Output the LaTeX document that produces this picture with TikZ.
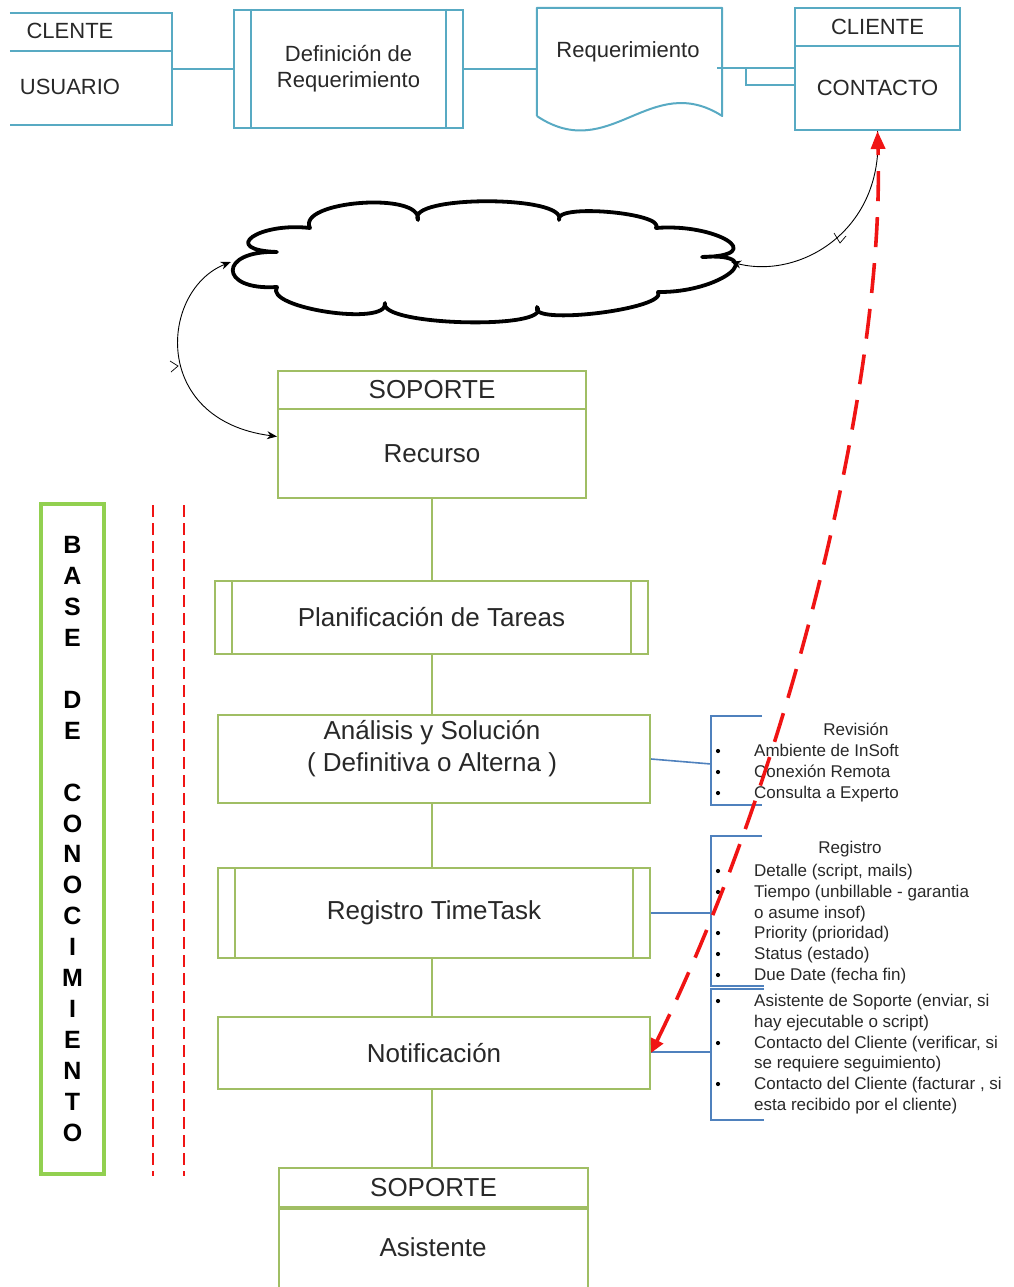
\documentclass[tikz,border=0pt]{standalone}
\usepackage{fontspec}
\setmainfont{Liberation Sans}
\usetikzlibrary{arrows.meta,calc}
\definecolor{tealc}{RGB}{88,170,195}
\definecolor{olivec}{RGB}{160,190,100}
\definecolor{limec}{RGB}{146,208,80}
\definecolor{bluec}{RGB}{79,129,189}
\definecolor{ink}{RGB}{40,40,40}
\definecolor{redc}{RGB}{240,20,20}

\begin{document}
\begin{tikzpicture}[x=1pt,y=-1pt,
  tealline/.style={draw=tealc,line width=2pt},
  tealbox/.style={tealline,inner sep=0pt,text=ink,font=\fontsize{22}{26}\selectfont},
  toptext/.style={inner sep=0pt,text=ink,font=\fontsize{22}{26}\selectfont},
  greenline/.style={draw=olivec,line width=2pt},
  greenbox/.style={greenline,inner sep=0pt,text=ink,font=\fontsize{26}{32}\selectfont},
  greentext/.style={inner sep=0pt,text=ink,font=\fontsize{26}{32}\selectfont},
  blueline/.style={draw=bluec,line width=1.6pt},
  hidden/.style={inner sep=0pt,draw=none},
  itemtext/.style={inner sep=0pt,anchor=base west,text=ink,font=\fontsize{17}{21}\selectfont},
  reddash/.style={draw=redc,line width=2.5pt,dash pattern=on 12pt off 6pt},
  thinarrow/.style={draw=black,line width=0.9pt},
]
\useasboundingbox (0,0) rectangle (1013,1287);
\clip (0,0) rectangle (1013,1287);

% ---------- top row ----------
\node[hidden,minimum width=162pt,minimum height=112pt] (cu) at (91,69) {};
\draw[tealline] (cu.north west) -- (cu.north east) -- (cu.south east) -- (cu.south west);
\draw[tealline] (cu.west |- 0,51) -- (cu.east |- 0,51);
\node[toptext] (cu-h) at (70,31) {CLENTE};
\node[toptext] (cu-b) at (70,87) {USUARIO};

\node[tealbox,minimum width=229pt,minimum height=118pt,align=center] (def) at (348.5,69)
  {Definición de\\Requerimiento};
\draw[tealline] ($(def.north west)+(18,0)$) -- ($(def.south west)+(18,0)$);
\draw[tealline] ($(def.north east)+(-18,0)$) -- ($(def.south east)+(-18,0)$);

\node[hidden,minimum width=185pt,minimum height=108pt] (req) at (629.5,62) {};
\draw[tealline,line join=round] (req.west |- 0,116) -- (req.north west) -- (req.north east)
  -- (req.east |- 0,116) .. controls (650,70) and (610,165) .. (req.west |- 0,116);
\node[toptext] (req-t) at (628,52) {Requerimiento};

\node[tealbox,minimum width=165pt,minimum height=38pt] (cc-h) at (877.5,27) {CLIENTE};
\node[tealbox,minimum width=165pt,minimum height=84pt] (cc-b) at (877.5,88) {CONTACTO};

\draw[tealline] (cu.east) -- (def.west);
\draw[tealline] (def.east) -- (def.east -| req.west);
\coordinate (req-out) at (717,68);
\coordinate (req-step) at (746,68);
\draw[tealline,line width=2.8pt] (req-out) -- (req-out -| cc-b.west);
\draw[tealline] (req-step) |- ($(cc-b.west)+(0,-3)$);

% ---------- cloud ----------
\node[hidden,minimum width=500pt,minimum height=122pt] (cloud) at (481,262) {};
\draw[line width=3.8pt,line join=round]
  (310,228) .. controls (296,201) and (422,191) .. (418,220)
  .. controls (405,195) and (568,195) .. (559,220)
  .. controls (553,203) and (666,213) .. (656,228)
  .. controls (716,223) and (770,256) .. (702,257)
  .. controls (772,252) and (721,293) .. (658,292)
  .. controls (669,309) and (528,326) .. (537,307)
  .. controls (554,330) and (378,326) .. (385,303)
  .. controls (389,327) and (263,308) .. (277,287)
  .. controls (218,291) and (218,250) .. (277,252)
  .. controls (219,250) and (258,222) .. cycle;

% ---------- support column ----------
\node[greenbox,minimum width=308pt,minimum height=38pt] (rs-h) at (432,390) {SOPORTE};
\node[greenbox,minimum width=308pt,minimum height=89pt] (rs-b) at (432,453.5) {Recurso};

\node[greenbox,minimum width=433pt,minimum height=73pt] (plan) at (431.5,617.5) {Planificación de Tareas};
\draw[greenline] ($(plan.north west)+(18,0)$) -- ($(plan.south west)+(18,0)$);
\draw[greenline] ($(plan.north east)+(-18,0)$) -- ($(plan.south east)+(-18,0)$);

\node[greenbox,minimum width=432pt,minimum height=88pt] (ana) at (434,759) {};
\node[greentext,align=center] (ana-t) at (432,749) {Análisis y Solución\\( Definitiva o Alterna )};

\node[greenbox,minimum width=432pt,minimum height=90pt] (reg) at (434,913) {Registro TimeTask};
\draw[greenline] ($(reg.north west)+(18,0)$) -- ($(reg.south west)+(18,0)$);
\draw[greenline] ($(reg.north east)+(-18,0)$) -- ($(reg.south east)+(-18,0)$);

\node[greenbox,minimum width=432pt,minimum height=72pt] (noti) at (434,1053) {Notificación};

\node[greenbox,minimum width=309pt,minimum height=39pt] (as-h) at (433.5,1187.5) {SOPORTE};
\node[greenbox,minimum width=309pt,minimum height=100pt,anchor=north] (as-b) at (as-h.south) {};
\node[greentext] (as-t) at (433,1247) {Asistente};

\draw[greenline] (rs-b.south) -- (rs-b.south |- plan.north);
\draw[greenline] (plan.south -| rs-b.south) -- (rs-b.south |- ana.north);
\draw[greenline] (ana.south -| rs-b.south) -- (rs-b.south |- reg.north);
\draw[greenline] (reg.south -| rs-b.south) -- (rs-b.south |- noti.north);
\draw[greenline] (noti.south -| rs-b.south) -- (rs-b.south |- as-h.north);

% ---------- knowledge base ----------
\node[draw=limec,line width=3.5pt,minimum width=63pt,minimum height=670pt,inner sep=0pt] (base) at (72.5,839) {};
\node[inner sep=0pt,align=center,text=black,font=\bfseries\fontsize{25}{30.9}\selectfont] (base-t) at (base.center)
  {B\\A\\S\\E\\~\\D\\E\\~\\C\\O\\N\\O\\C\\I\\M\\I\\E\\N\\T\\O};
\coordinate (kb1-top) at (153,505);
\coordinate (kb1-bot) at (153,1176);
\coordinate (kb2-top) at (184,505);
\coordinate (kb2-bot) at (184,1176);
\draw[reddash] (kb1-top) -- (kb1-bot);
\draw[reddash] (kb2-top) -- (kb2-bot);

% ---------- brackets with notes ----------
\coordinate (rv-top) at (762,716);
\coordinate (rv-bot) at (762,805);
\coordinate (rv-mid) at (711,764);
\draw[blueline] (rv-top) -- ++(-51,0) |- (rv-bot);
\draw[blueline] (ana.east) -- (rv-mid);

\coordinate (rg-top) at (762,836);
\coordinate (rg-bot) at (764,986);
\coordinate (rg-mid) at (711,913);
\draw[blueline] (rg-top) -- ++(-51,0) |- (rg-bot);
\draw[blueline] (reg.east) -- (rg-mid);

\coordinate (nt-top) at (764,989);
\coordinate (nt-bot) at (764,1120);
\coordinate (nt-mid) at (711,1052);
\draw[blueline] (nt-top) -- ++(-53,0) |- (nt-bot);
\draw[blueline] (noti.east |- nt-mid) -- (nt-mid);

\node[inner sep=0pt,text=ink,font=\fontsize{17}{21}\selectfont] (rv-title) at (856,729) {Revisión};
\node[inner sep=0pt,text=ink,font=\fontsize{17}{21}\selectfont] (rg-title) at (850,849) {Registro};
\foreach \yy/\tt/\bb in {
    756/{Ambiente de InSoft}/1, 777/{Conexión Remota}/1, 798/{Consulta a Experto}/1,
    876/{Detalle (script, mails)}/1, 897/{Tiempo (unbillable - garantia}/1, 918/{o asume insof)}/0,
    938/{Priority (prioridad)}/1, 959/{Status (estado)}/1, 980/{Due Date (fecha fin)}/1,
    1006/{Asistente de Soporte (enviar, si}/1, 1027/{hay ejecutable o script)}/0,
    1048/{Contacto del Cliente (verificar, si}/1, 1068/{se requiere seguimiento)}/0,
    1089/{Contacto del Cliente (facturar , si}/1, 1110/{esta recibido por el cliente)}/0}{
  \node[itemtext] at (754,\yy) {\tt};
  \ifnum\bb=1 \fill[black] (718,\yy-5) circle (2.1pt); \fi
}

% ---------- curved links ----------
\draw[thinarrow,{Stealth[length=10pt,width=8pt]}-{Stealth[length=10pt,width=8pt]}]
  (cloud.west) .. controls (160,290) and (150,420) .. ($(rs-b.west)+(0,-17)$);
\draw[thinarrow,line width=0.7pt] (170,361) -- (178,366) -- (171,372);
\draw[thinarrow,-{Stealth[length=10pt,width=8pt]}]
  (cc-b.south) .. controls (885,230) and (800,280) .. (cloud.east);
\draw[thinarrow,line width=0.7pt] (834,233) -- (840,243) -- (846,236);

\draw[reddash,dash pattern=on 30pt off 16pt,line width=3.6pt,
  {Triangle[length=14pt,width=13pt]}-{Triangle[length=18pt,width=14pt]}]
  (noti.east) .. controls (790,770) and (885,380) .. (cc-b.south);
\end{tikzpicture}
\end{document}
